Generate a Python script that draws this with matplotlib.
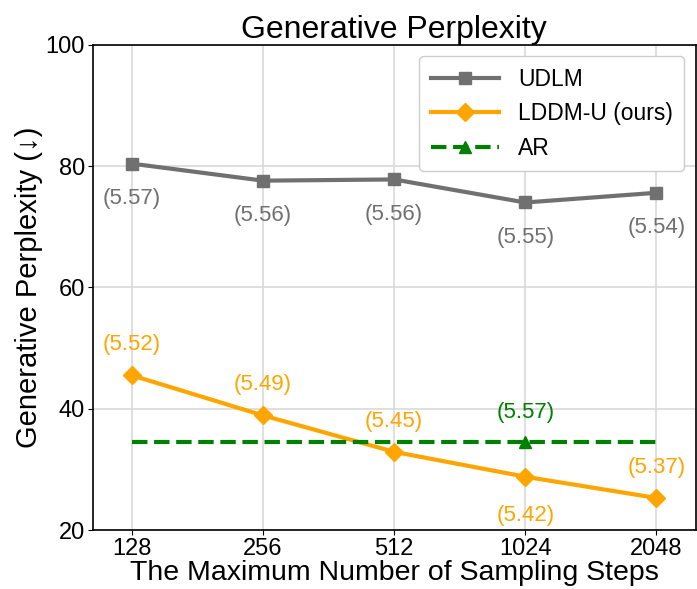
import numpy as np
import matplotlib.pyplot as plt

plt.rcParams['font.family'] = ['Liberation Sans', 'DejaVu Sans']

steps = ['128', '256', '512', '1024', '2048']
udlm = [80.4, 77.6, 77.8, 74.0, 75.6]
udlm_ent = ['(5.57)', '(5.56)', '(5.56)', '(5.55)', '(5.54)']
lddm = [45.5, 38.9, 32.9, 28.8, 25.3]
lddm_ent = ['(5.52)', '(5.49)', '(5.45)', '(5.42)', '(5.37)']
lddm_below = [False, False, False, True, False]
ar = 34.5
ar_ent = '(5.57)'

x = np.arange(len(steps))

fig = plt.figure(figsize=(6.97, 5.89), dpi=100)
ax = fig.add_axes([0.133, 0.1, 0.865, 0.824])

ax.plot(x, udlm, color='#707070', marker='s', markersize=9, linewidth=3, label='UDLM')
ax.plot(x, lddm, color='orange', marker='D', markersize=9, linewidth=3, label='LDDM-U (ours)')
ax.plot(x, [ar] * len(x), color='green', linestyle='--', linewidth=3,
        marker='^', markersize=9, markevery=[3], label='AR')

# подписи (энтропия) у точек
for xi, v, t in zip(x, udlm, udlm_ent):
    ax.annotate(t, (xi, v), xytext=(0, -25), textcoords='offset points',
                ha='center', va='center', fontsize=16, color='#707070')
for xi, v, t, b in zip(x, lddm, lddm_ent, lddm_below):
    ax.annotate(t, (xi, v), xytext=(0, -28 if b else 22), textcoords='offset points',
                ha='center', va='center', fontsize=16, color='orange')
ax.annotate(ar_ent, (3, ar), xytext=(0, 21), textcoords='offset points',
            ha='center', va='center', fontsize=16, color='green')

ax.set_xticks(x)
ax.set_xticklabels(steps)
ax.set_xlim(-0.3, 4.3)
ax.set_ylim(20, 100)
ax.set_yticks([20, 40, 60, 80, 100])
ax.tick_params(labelsize=17, pad=2)
ax.grid(True, color='#d9d9d9', linewidth=1.2)
ax.set_axisbelow(True)
for s in ax.spines.values():
    s.set_color('black')
    s.set_linewidth(1.2)

ax.set_title('Generative Perplexity', fontsize=23, pad=2)
ax.set_xlabel('The Maximum Number of Sampling Steps', fontsize=20.5, labelpad=0)
ax.set_ylabel('Generative Perplexity (↓)', fontsize=21, labelpad=2)
ax.legend(loc='upper right', fontsize=16.5, framealpha=1, borderpad=0.5,
          handlelength=3)

fig.savefig('out.png', dpi=100)
